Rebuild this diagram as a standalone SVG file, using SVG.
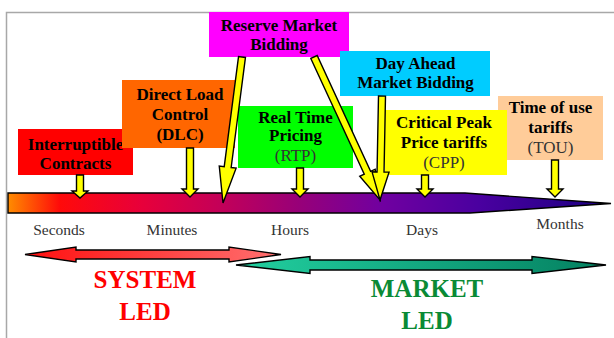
<svg xmlns="http://www.w3.org/2000/svg" width="614" height="338" viewBox="0 0 614 338">
  <style>
    .box-t { font-family: "Liberation Serif", "Times New Roman", serif; font-weight: bold; font-size: 17px; fill: #000; text-anchor: middle; }
    .box-r { font-family: "Liberation Serif", "Times New Roman", serif; font-size: 17px; fill: #333; text-anchor: middle; }
    .scale { font-family: "Liberation Serif", "Times New Roman", serif; font-size: 15.5px; fill: #333; text-anchor: middle; }
    .big { font-family: "Liberation Serif", "Times New Roman", serif; font-weight: bold; font-size: 25px; text-anchor: middle; }
    .ptr { fill: #ffff00; stroke: #000; stroke-width: 1.4; stroke-linejoin: miter; }
    .dbl { stroke: #000; stroke-width: 1.4; stroke-linejoin: miter; }
  </style>
  <defs>
    <linearGradient id="timeGrad" gradientUnits="userSpaceOnUse" x1="8" y1="0" x2="612" y2="0">
      <stop offset="0" stop-color="#ff8c00"/>
      <stop offset="0.086" stop-color="#ff0a0a"/>
      <stop offset="0.22" stop-color="#e8003a"/>
      <stop offset="0.35" stop-color="#c40058"/>
      <stop offset="0.48" stop-color="#980078"/>
      <stop offset="0.62" stop-color="#7000a0"/>
      <stop offset="0.78" stop-color="#4a00a0"/>
      <stop offset="1" stop-color="#1a0080"/>
    </linearGradient>
    <linearGradient id="sysGrad" gradientUnits="userSpaceOnUse" x1="25" y1="0" x2="281" y2="0">
      <stop offset="0" stop-color="#ff1010"/>
      <stop offset="1" stop-color="#ff7070"/>
    </linearGradient>
    <linearGradient id="mktGrad" gradientUnits="userSpaceOnUse" x1="236" y1="0" x2="606" y2="0">
      <stop offset="0" stop-color="#22d0a0"/>
      <stop offset="1" stop-color="#048060"/>
    </linearGradient>
  </defs>

  <rect width="614" height="338" fill="#ffffff"/>
  <!-- frame -->
  <path d="M6.5,338 V12.5 H614" fill="none" stroke="#a8a8a8" stroke-width="1.5"/>

  <!-- time scale bar -->
  <g id="timeline">
    <polygon points="8,193 465,193 611,203.5 470,213 8,213" fill="url(#timeGrad)" stroke="#000" stroke-width="1.4"/>
    <text class="scale" x="59" y="235">Seconds</text>
    <text class="scale" x="172" y="235">Minutes</text>
    <text class="scale" x="290" y="235">Hours</text>
    <text class="scale" x="422" y="235">Days</text>
    <text class="scale" x="560" y="229">Months</text>
  </g>

  <!-- boxes -->
  <g id="interruptible">
    <rect x="18" y="129" width="115" height="46" fill="#ff0000"/>
    <text class="box-t" x="75.5" y="150">Interruptible</text>
    <text class="box-t" x="75.5" y="169">Contracts</text>
  </g>
  <g id="dlc">
    <rect x="122" y="80" width="113" height="68" fill="#ff6600"/>
    <text class="box-t" x="180" y="100">Direct Load</text>
    <text class="box-t" x="180" y="120">Control</text>
    <text class="box-t" x="180" y="140">(DLC)</text>
  </g>
  <g id="reserve">
    <rect x="209" y="12" width="140" height="45" fill="#ff00ff"/>
    <text class="box-t" x="279" y="31">Reserve Market</text>
    <text class="box-t" x="279" y="50">Bidding</text>
  </g>
  <g id="rtp">
    <rect x="238" y="106" width="115" height="62" fill="#00ff00"/>
    <text class="box-t" x="295.5" y="123">Real Time</text>
    <text class="box-t" x="295.5" y="141">Pricing</text>
    <text class="box-r" x="295.5" y="161">(RTP)</text>
  </g>
  <g id="dayahead">
    <rect x="340" y="51" width="150" height="45" fill="#00ccff"/>
    <text class="box-t" x="415.5" y="69">Day Ahead</text>
    <text class="box-t" x="415.5" y="88">Market Bidding</text>
  </g>
  <g id="tou">
    <rect x="498" y="96" width="105" height="64" fill="#ffcc99"/>
    <text class="box-t" x="550.5" y="113">Time of use</text>
    <text class="box-t" x="550.5" y="133">tariffs</text>
    <text class="box-r" x="550.5" y="153">(TOU)</text>
  </g>
  <g id="cpp">
    <rect x="385" y="110" width="122" height="65" fill="#ffff00"/>
    <text class="box-t" x="444" y="128">Critical Peak</text>
    <text class="box-t" x="444" y="148">Price tariffs</text>
    <text class="box-r" x="444" y="168">(CPP)</text>
  </g>

  <!-- connectors: box to time scale -->
  <g id="connectors">
    <polygon class="ptr" points="76.5,175 76.5,191 72,191 80,198 88,191 83.5,191 83.5,175"/>
    <polygon class="ptr" points="186.5,148 186.5,189 182,189 190,197 198,189 193.5,189 193.5,148"/>
    <polygon class="ptr" points="296.5,168 296.5,189 292,189 300,197 308,189 303.5,189 303.5,168"/>
    <polygon class="ptr" points="421.5,175 421.5,189 417,189 425,197 433,189 428.5,189 428.5,175"/>
    <polygon class="ptr" points="551.5,160 551.5,189 547,189 555,197 563,189 558.5,189 558.5,160"/>
    <!-- slanted pointers: local axis points down, length L, head h -->
    <polygon class="ptr" transform="translate(242,57) rotate(7.41)" points="-3.5,0 -3.5,111 -8.5,111 0,147.2 8.5,111 3.5,111 3.5,0"/>
    <polygon class="ptr" transform="translate(314,57) rotate(-24.78)" points="-3.5,0 -3.5,127.5 -8.5,127.5 0,157.5 8.5,127.5 3.5,127.5 3.5,0"/>
    <polygon class="ptr" transform="translate(382,96) rotate(1.10)" points="-3.5,0 -3.5,76 -8.5,76 0,104 8.5,76 3.5,76 3.5,0"/>
  </g>

  <!-- market led span -->
  <g id="market">
    <polygon class="dbl" fill="url(#mktGrad)" points="236,265 310,256.5 310,260 532,260 532,256.5 606,265 532,273.5 532,270 310,270 310,273.5"/>
    <text class="big" x="427" y="297" fill="#0a8a35">MARKET</text>
    <text class="big" x="427" y="329" fill="#0a8a35">LED</text>
  </g>

  <!-- system led span -->
  <g id="system">
    <polygon class="dbl" fill="url(#sysGrad)" points="25,254.5 76,247 76,250 229,250 229,247 281,254.5 229,262 229,259 76,259 76,262"/>
    <text class="big" x="145" y="288" fill="#ff0000">SYSTEM</text>
    <text class="big" x="145" y="320" fill="#ff0000">LED</text>
  </g>
</svg>
